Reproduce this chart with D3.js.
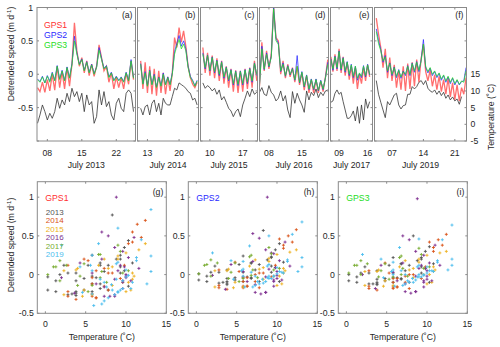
<!DOCTYPE html>
<html>
<head>
<meta charset="utf-8">
<script src="https://cdn.jsdelivr.net/npm/d3@7"></script>
<style>
  body { margin: 0; background: #fff; }
  text { font-family: "Liberation Sans", Arial, sans-serif; fill: #262626; }
</style>
</head>
<body>
<svg id="chart" width="500" height="347"></svg>
<script>
/* global d3 */

// ---- data (two samples a day) ----
var years = [ "2013", "2014", "2015", "2016", "2017", "2019" ];
var firstDay = [ 6.0, 11.5, 8.5, 6.0, 7.0, 3.5 ];   // July day of first sample
var sampleStep = 0.5;                                 // days between samples

var dayDomains = [ [ 5.9, 25.9 ], [ 10.8, 24.3 ], [ 8.0, 20.15 ], [ 6.0, 20.65 ], [ 6.9, 17.2 ], [ 3.1, 23.6 ] ];
var dayTicks = [ [ 8, 15, 22 ], [ 13, 20 ], [ 10, 17 ], [ 8, 15 ], [ 9, 16 ], [ 7, 14, 21 ] ];

var speedTicks = [ -0.5, 0, 0.5, 1 ];
var tempTicks = [ -5, 0, 5, 10, 15 ];
var scatterXTicks = [ 0, 5, 10, 15 ];
var scatterYTicks = [ -0.5, 0, 0.5, 1 ];
var gpsNames = [ "GPS1", "GPS2", "GPS3" ];
var panelTags = [ "(a)", "(b)", "(c)", "(d)", "(e)", "(f)" ];
var scatterTags = [ "(g)", "(h)", "(i)" ];

var gps1_2013 = [ -0.20, -0.26, -0.12, -0.27, -0.08, -0.25, 0.00, -0.24, 0.12, -0.20, 0.04, -0.22, 0.10, -0.18, 0.15, 0.77, 0.35, 0.12, 0.25, 0.02, 0.20, -0.02, 0.15, -0.03, 0.12, 0.44, 0.25, 0.05, 0.12, -0.12, 0.02, -0.22, -0.04, -0.20, -0.05, -0.22, 0.02, -0.15, 0.20, -0.08 ];
var gps2_2013 = [ -0.07, -0.11, -0.03, -0.13, -0.02, -0.10, 0.03, -0.09, 0.13, -0.07, 0.06, -0.09, 0.11, -0.05, 0.16, 0.57, 0.32, 0.15, 0.23, 0.06, 0.19, 0.03, 0.15, 0.01, 0.11, 0.40, 0.24, 0.09, 0.13, -0.04, 0.03, -0.09, -0.03, -0.09, -0.04, -0.11, 0.03, -0.09, 0.22, -0.05 ];
var gps3_2013 = [ -0.08, -0.12, -0.04, -0.13, -0.03, -0.12, 0.02, -0.10, 0.12, -0.08, 0.05, -0.10, 0.10, -0.06, 0.14, 0.50, 0.30, 0.14, 0.22, 0.05, 0.18, 0.02, 0.14, 0.00, 0.10, 0.36, 0.22, 0.08, 0.12, -0.05, 0.02, -0.10, -0.04, -0.10, -0.05, -0.12, 0.02, -0.10, 0.20, -0.06 ];
var temp_2013 = [ 0.3, 2.8, 5.8, 3.8, 1.3, 3.3, 1.8, 3.8, 7.8, 4.8, 7.3, 5.8, 9.3, 6.8, 10.8, 8.3, 9.8, 6.8, 9.3, 3.8, 8.8, 5.8, 6.8, 0.3, 2.3, 10.3, 5.8, 9.8, 5.3, 6.8, 2.8, 1.3, 6.3, 7.8, 4.8, 3.8, 9.3, 10.3, 9.3, 3.8 ];

var gps1_2014 = [ 0.20, -0.22, 0.18, -0.28, 0.12, -0.30, 0.08, -0.32, 0.05, -0.28, 0.02, -0.30, -0.04, -0.25, 0.02, 0.55, 0.40, 0.70, 0.48, 0.65, 0.42, 0.12, -0.05, -0.15, -0.20, -0.12 ];
var gps2_2014 = [ 0.16, -0.14, 0.04, -0.17, 0.06, -0.15, 0.00, -0.19, -0.04, -0.17, 0.02, -0.15, -0.04, -0.15, 0.02, 0.34, 0.46, 0.58, 0.42, 0.50, 0.38, 0.12, -0.03, -0.09, -0.17, -0.09 ];
var gps3_2014 = [ 0.15, -0.15, 0.02, -0.18, 0.05, -0.16, -0.02, -0.20, -0.05, -0.18, 0.00, -0.16, -0.05, -0.16, 0.00, 0.30, 0.42, 0.52, 0.38, 0.45, 0.35, 0.10, -0.05, -0.10, -0.18, -0.10 ];
var temp_2014 = [ 4.8, 2.8, 5.3, 5.8, 2.8, 6.3, 7.3, 3.8, 6.3, 2.8, 7.8, 6.3, 5.8, 5.8, 8.3, 10.8, 10.3, 12.4, 11.9, 11.4, 10.8, 9.8, 9.3, 7.3, 7.8, 5.8 ];

var gps1_2015 = [ 0.40, 0.02, 0.32, -0.02, 0.28, -0.06, 0.24, -0.10, 0.20, -0.14, 0.12, -0.20, 0.08, -0.26, 0.06, -0.28, 0.05, -0.26, 0.08, -0.22, 0.10, -0.20, 0.20, -0.10 ];
var gps2_2015 = [ 0.32, 0.08, 0.29, 0.05, 0.26, 0.02, 0.21, -0.02, 0.19, -0.06, 0.11, -0.10, 0.07, -0.16, 0.05, -0.17, 0.05, -0.16, 0.07, -0.14, 0.09, -0.12, 0.17, -0.02 ];
var gps3_2015 = [ 0.30, 0.10, 0.28, 0.06, 0.25, 0.04, 0.20, 0.00, 0.18, -0.04, 0.10, -0.08, 0.06, -0.14, 0.04, -0.15, 0.04, -0.14, 0.06, -0.12, 0.08, -0.10, 0.16, 0.00 ];
var temp_2015 = [ 12.4, 10.8, 11.6, 11.0, 10.0, 10.8, 9.0, 10.3, 7.3, 8.3, 6.6, 4.8, 4.0, 2.3, 3.8, 4.6, 2.3, 5.8, 7.8, 10.0, 8.3, 10.6, 9.0, 9.6 ];

var gps1_2016 = [ -0.18, 0.48, 0.05, 0.35, 0.08, 0.30, 1.00, 0.55, 0.50, 0.00, 0.20, -0.06, 0.15, -0.04, 0.10, -0.12, 0.12, -0.16, 0.02, -0.24, -0.02, -0.28, -0.08, -0.28, -0.08, -0.28, -0.10, -0.26, -0.04, 0.22 ];
var gps2_2016 = [ -0.15, 0.42, 0.07, 0.32, 0.11, 0.27, 1.00, 0.53, 0.47, 0.04, 0.17, -0.03, 0.13, -0.01, 0.09, -0.09, 0.28, -0.13, 0.04, -0.19, -0.01, -0.23, -0.07, -0.23, -0.07, -0.25, -0.09, -0.23, -0.05, 0.18 ];
var gps3_2016 = [ -0.16, 0.38, 0.08, 0.30, 0.12, 0.25, 0.98, 0.50, 0.45, 0.05, 0.15, -0.02, 0.12, 0.00, 0.08, -0.08, 0.12, -0.12, 0.03, -0.18, -0.02, -0.22, -0.08, -0.22, -0.08, -0.24, -0.10, -0.22, -0.06, 0.15 ];
var temp_2016 = [ 9.6, 11.0, 9.0, 8.6, 11.6, 9.6, 8.8, 7.0, 7.8, 10.0, 7.0, 8.6, 4.3, 2.0, 9.8, 6.3, 9.3, 7.3, 5.8, 3.6, 10.0, 7.3, 9.6, 8.6, 10.6, 8.0, 9.6, 8.6, 10.0, 10.3 ];

var gps1_2017 = [ 0.26, 0.04, 0.30, 0.05, 0.38, 0.02, 0.26, -0.02, 0.18, -0.08, 0.12, -0.14, 0.10, -0.22, 0.00, -0.14, 0.10, -0.10, 0.14, -0.04 ];
var gps2_2017 = [ 0.23, 0.06, 0.27, 0.08, 0.35, 0.06, 0.25, 0.03, 0.19, -0.02, 0.15, -0.05, 0.12, -0.09, 0.01, -0.05, 0.13, -0.04, 0.15, -0.01 ];
var gps3_2017 = [ 0.22, 0.08, 0.26, 0.10, 0.34, 0.08, 0.24, 0.05, 0.18, 0.00, 0.14, -0.03, 0.12, -0.06, 0.02, -0.03, 0.12, -0.02, 0.14, 0.00 ];
var temp_2017 = [ 6.6, 7.0, 9.3, 10.3, 9.0, 9.6, 6.8, 4.3, 1.8, 1.8, 2.6, 4.0, 1.0, 5.3, 0.3, 5.8, 1.3, 7.6, 4.8, 6.8 ];

var gps1_2019 = [ 0.84, 0.60, 0.40, 0.10, 0.38, -0.06, 0.25, -0.10, 0.14, -0.20, 0.05, -0.23, 0.12, -0.25, 0.16, -0.22, 0.18, -0.18, 0.22, -0.12, 0.24, 0.45, 0.04, -0.10, 0.06, -0.18, -0.01, -0.23, -0.03, -0.26, -0.08, -0.30, -0.06, -0.34, -0.13, -0.38, -0.16, -0.40, -0.20, -0.30, -0.05 ];
var gps2_2019 = [ 0.68, 0.50, 0.37, 0.18, 0.28, 0.03, 0.17, -0.02, 0.11, -0.05, 0.07, -0.06, 0.05, -0.02, 0.13, -0.02, 0.17, 0.03, 0.19, 0.04, 0.22, 0.52, 0.10, 0.02, 0.09, -0.02, 0.04, -0.05, 0.01, -0.09, -0.02, -0.12, -0.04, -0.14, -0.06, -0.16, -0.09, -0.16, -0.11, -0.10, 0.10 ];
var gps3_2019 = [ 0.64, 0.46, 0.35, 0.20, 0.26, 0.05, 0.16, 0.00, 0.10, -0.03, 0.06, -0.04, 0.04, 0.00, 0.12, 0.00, 0.16, 0.05, 0.18, 0.06, 0.20, 0.45, 0.12, 0.04, 0.10, 0.00, 0.05, -0.03, 0.02, -0.07, -0.01, -0.10, -0.03, -0.12, -0.05, -0.14, -0.08, -0.15, -0.10, -0.12, 0.05 ];
var temp_2019 = [ 13.1, 9.0, 6.6, 4.3, 2.0, 6.8, 5.8, 7.3, 8.8, 9.3, 5.8, 4.6, 5.6, 5.8, 9.0, 9.0, 11.3, 10.6, 11.3, 12.6, 13.1, 11.9, 13.1, 10.8, 10.0, 9.6, 10.3, 9.0, 10.0, 8.6, 9.6, 7.8, 8.8, 7.3, 8.2, 7.0, 7.6, 6.0, 8.3, null, null ];

var gps1 = [ gps1_2013, gps1_2014, gps1_2015, gps1_2016, gps1_2017, gps1_2019 ];
var gps2 = [ gps2_2013, gps2_2014, gps2_2015, gps2_2016, gps2_2017, gps2_2019 ];
var gps3 = [ gps3_2013, gps3_2014, gps3_2015, gps3_2016, gps3_2017, gps3_2019 ];
var temps = [ temp_2013, temp_2014, temp_2015, temp_2016, temp_2017, temp_2019 ];

// ---- styling ----
var gpsColors = [ "#ff3030", "#2a2aff", "#25dd25" ];
var yearColors = [ "#555555", "#d95319", "#edb120", "#7e2f8e", "#77ac30", "#4dbeee" ];
var boxColor = "#8a8a8a";
var fontSize = 8.7;

var svg = d3.select( "#chart" );
var defs = svg.append( "defs" );

// ---------------- top row: time series ----------------
var topPanels = [ [ 37, 135.5 ], [ 137.5, 198.5 ], [ 200.5, 257.5 ], [ 259.5, 328.5 ], [ 330.5, 372.5 ], [ 374.5, 466.5 ] ];
var topY = d3.scaleLinear().domain( [ -1, 1 ] ).range( [ 141, 7.5 ] );
var tempY = d3.scaleLinear().domain( [ -5, 35 ] ).range( [ 141, 7.5 ] );

years.forEach( function( yr, i ) {
  var x0 = topPanels[ i ][ 0 ], x1 = topPanels[ i ][ 1 ];
  var x = d3.scaleLinear().domain( dayDomains[ i ] ).range( [ x0, x1 ] );
  var day = function( k ) { return firstDay[ i ] + k * sampleStep; };

  defs.append( "clipPath" ).attr( "id", "clipTop" + i )
    .append( "rect" ).attr( "x", x0 ).attr( "y", 7.5 )
    .attr( "width", x1 - x0 ).attr( "height", 133.5 );

  var g = svg.append( "g" );
  var plot = g.append( "g" ).attr( "clip-path", "url(#clipTop" + i + ")" );

  // temperature
  var tLine = d3.line()
    .defined( function( d ) { return d != null; } )
    .x( function( d, k ) { return x( day( k ) ); } )
    .y( function( d ) { return tempY( d ); } );
  plot.append( "path" ).datum( temps[ i ] ).attr( "d", tLine )
    .attr( "fill", "none" ).attr( "stroke", "#333" ).attr( "stroke-width", 0.8 );

  // speeds
  var sLine = d3.line()
    .x( function( d, k ) { return x( day( k ) ); } )
    .y( function( d ) { return topY( d ); } );
  [ gps1[ i ], gps2[ i ], gps3[ i ] ].forEach( function( arr, s ) {
    plot.append( "path" ).datum( arr ).attr( "d", sLine )
      .attr( "fill", "none" ).attr( "stroke", gpsColors[ s ] )
      .attr( "stroke-opacity", s === 0 ? 0.7 : 0.85 )
      .attr( "stroke-width", s === 0 ? 1.3 : 0.9 );
  } );

  // box
  g.append( "rect" ).attr( "x", x0 ).attr( "y", 7.5 )
    .attr( "width", x1 - x0 ).attr( "height", 133.5 )
    .attr( "fill", "none" ).attr( "stroke", boxColor ).attr( "stroke-width", 1 );

  // ticks
  speedTicks.concat( [ -1 ] ).forEach( function( v ) {
    g.append( "line" ).attr( "x1", x0 ).attr( "x2", x0 + 2 )
      .attr( "y1", topY( v ) ).attr( "y2", topY( v ) ).attr( "stroke", boxColor );
  } );
  d3.range( -5, 36, 5 ).forEach( function( t ) {
    g.append( "line" ).attr( "x1", x1 - 2 ).attr( "x2", x1 )
      .attr( "y1", tempY( t ) ).attr( "y2", tempY( t ) ).attr( "stroke", boxColor );
  } );
  dayTicks[ i ].forEach( function( d ) {
    g.append( "line" ).attr( "x1", x( d ) ).attr( "x2", x( d ) )
      .attr( "y1", 141 ).attr( "y2", 139 ).attr( "stroke", boxColor );
    g.append( "line" ).attr( "x1", x( d ) ).attr( "x2", x( d ) )
      .attr( "y1", 7.5 ).attr( "y2", 9.5 ).attr( "stroke", boxColor );
    g.append( "text" ).attr( "x", x( d ) ).attr( "y", 155.5 )
      .attr( "text-anchor", "middle" ).attr( "font-size", fontSize )
      .text( d3.format( "02d" )( d ) );
  } );

  g.append( "text" ).attr( "x", ( x0 + x1 ) / 2 ).attr( "y", 167.5 )
    .attr( "text-anchor", "middle" ).attr( "font-size", fontSize )
    .text( "July " + yr );

  g.append( "text" ).attr( "x", x1 - 3 ).attr( "y", 18 )
    .attr( "text-anchor", "end" ).attr( "font-size", fontSize )
    .text( panelTags[ i ] );

  if ( i === 0 ) {
    speedTicks.forEach( function( v ) {
      g.append( "text" ).attr( "x", x0 - 4 ).attr( "y", topY( v ) )
        .attr( "dy", "0.35em" ).attr( "text-anchor", "end" )
        .attr( "font-size", fontSize ).text( v );
    } );
    gpsNames.forEach( function( n, s ) {
      g.append( "text" ).attr( "x", 44 ).attr( "y", 27.5 + s * 10 )
        .attr( "font-size", fontSize ).style( "fill", gpsColors[ s ] ).text( n );
    } );
  }
  if ( i === years.length - 1 ) {
    tempTicks.forEach( function( t ) {
      g.append( "text" ).attr( "x", x1 + 4 ).attr( "y", tempY( t ) )
        .attr( "dy", "0.35em" ).attr( "font-size", fontSize ).text( t );
    } );
  }
} );

// axis titles, top row
function speedTitle( cx, cy ) {
  var t = svg.append( "text" )
    .attr( "transform", "translate(" + cx + "," + cy + ") rotate(-90)" )
    .attr( "text-anchor", "middle" ).attr( "font-size", fontSize );
  t.append( "tspan" ).text( "Detrended speed (m d" );
  t.append( "tspan" ).attr( "font-size", 6 ).attr( "dy", -3 ).text( "-1" );
  t.append( "tspan" ).attr( "dy", 3 ).text( ")" );
}
speedTitle( 14, 54 );

svg.append( "text" )
  .attr( "transform", "translate(494,117) rotate(-90)" )
  .attr( "text-anchor", "middle" ).attr( "font-size", fontSize )
  .text( "Temperature (˚C)" );

// ---------------- bottom row: speed vs temperature ----------------
var botLefts = [ 37.3, 188.3, 338.3 ];
var botWidth = 129;
var scY = d3.scaleLinear().domain( [ -0.5, 1.2 ] ).range( [ 313.3, 181.7 ] );
var gpsByPanel = [ gps1, gps2, gps3 ];
var plus = "M-1.5,0H1.5M0,-1.5V1.5";

gpsByPanel.forEach( function( gps, p ) {
  var left = botLefts[ p ];
  var scX = d3.scaleLinear().domain( [ -1, 15 ] ).range( [ left, left + botWidth ] );
  var g = svg.append( "g" );

  defs.append( "clipPath" ).attr( "id", "clipBot" + p )
    .append( "rect" ).attr( "x", left ).attr( "y", 181.7 )
    .attr( "width", botWidth ).attr( "height", 131.6 );
  var plot = g.append( "g" ).attr( "clip-path", "url(#clipBot" + p + ")" );

  years.forEach( function( yr, i ) {
    var pts = temps[ i ].map( function( t, k ) { return [ t, gps[ i ][ k ] ]; } )
      .filter( function( d ) { return d[ 0 ] != null; } );
    plot.selectAll( ".pt" + i ).data( pts ).enter().append( "path" )
      .attr( "class", "pt" + i )
      .attr( "d", plus )
      .attr( "transform", function( d ) { return "translate(" + scX( d[ 0 ] ) + "," + scY( d[ 1 ] ) + ")"; } )
      .attr( "stroke", yearColors[ i ] ).attr( "stroke-width", 0.9 );
  } );

  g.append( "rect" ).attr( "x", left ).attr( "y", 181.7 )
    .attr( "width", botWidth ).attr( "height", 131.6 )
    .attr( "fill", "none" ).attr( "stroke", boxColor );

  scatterXTicks.forEach( function( v ) {
    g.append( "line" ).attr( "x1", scX( v ) ).attr( "x2", scX( v ) )
      .attr( "y1", 313.3 ).attr( "y2", 311.3 ).attr( "stroke", boxColor );
    g.append( "line" ).attr( "x1", scX( v ) ).attr( "x2", scX( v ) )
      .attr( "y1", 181.7 ).attr( "y2", 183.7 ).attr( "stroke", boxColor );
    g.append( "text" ).attr( "x", scX( v ) ).attr( "y", 326.5 )
      .attr( "text-anchor", "middle" ).attr( "font-size", fontSize ).text( v );
  } );
  scatterYTicks.forEach( function( v ) {
    g.append( "line" ).attr( "x1", left ).attr( "x2", left + 2 )
      .attr( "y1", scY( v ) ).attr( "y2", scY( v ) ).attr( "stroke", boxColor );
    g.append( "line" ).attr( "x1", left + botWidth - 2 ).attr( "x2", left + botWidth )
      .attr( "y1", scY( v ) ).attr( "y2", scY( v ) ).attr( "stroke", boxColor );
    g.append( "text" ).attr( "x", left - 3.5 ).attr( "y", scY( v ) )
      .attr( "dy", "0.35em" ).attr( "text-anchor", "end" )
      .attr( "font-size", fontSize ).text( v );
  } );

  g.append( "text" ).attr( "x", left + botWidth / 2 ).attr( "y", 340 )
    .attr( "text-anchor", "middle" ).attr( "font-size", fontSize )
    .text( "Temperature (˚C)" );

  g.append( "text" ).attr( "x", left + botWidth - 3 ).attr( "y", 195 )
    .attr( "text-anchor", "end" ).attr( "font-size", fontSize )
    .text( scatterTags[ p ] );

  g.append( "text" ).attr( "x", left + 8 ).attr( "y", 201 )
    .attr( "font-size", fontSize ).style( "fill", gpsColors[ p ] )
    .text( gpsNames[ p ] );

  if ( p === 0 ) {
    years.forEach( function( yr, i ) {
      g.append( "text" ).attr( "x", left + 8.5 ).attr( "y", 214.5 + i * 8.5 )
        .attr( "font-size", 8 ).style( "fill", yearColors[ i ] ).text( yr );
    } );
  }
} );

speedTitle( 14, 245 );
</script>
</body>
</html>
